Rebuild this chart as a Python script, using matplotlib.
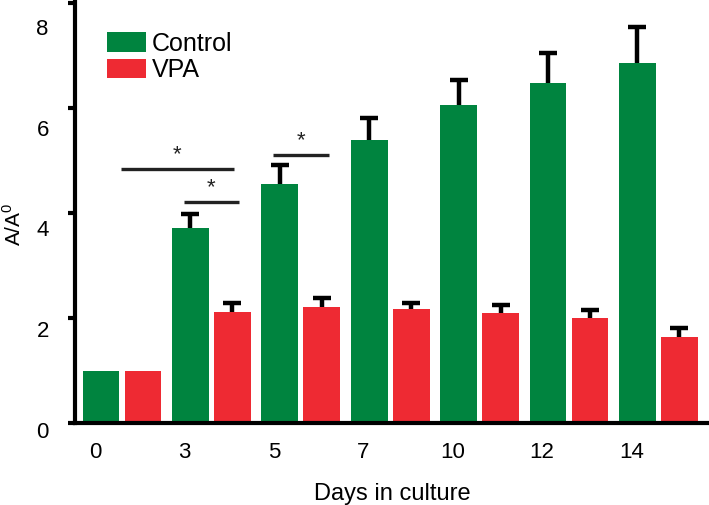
import numpy as np
import matplotlib.pyplot as plt
from matplotlib.transforms import ScaledTranslation

days = ["0", "3", "5", "7", "10", "12", "14"]
control = [1.0, 3.72, 4.56, 5.39, 6.06, 6.48, 6.86]
control_err = [0.0, 0.27, 0.36, 0.42, 0.47, 0.57, 0.68]
vpa = [1.0, 2.11, 2.21, 2.17, 2.09, 2.0, 1.64]
vpa_err = [0.0, 0.18, 0.18, 0.12, 0.16, 0.15, 0.17]
# significance brackets: (from x, to x, height) in group units
brackets = [(-0.01, 1.25, 4.84), (0.69, 1.31, 4.21), (1.69, 2.32, 5.10)]

GREEN = "#00843F"
RED = "#EE2A33"

plt.rcParams["font.family"] = ["Liberation Sans", "DejaVu Sans"]
plt.rcParams["mathtext.fontset"] = "custom"
plt.rcParams["mathtext.rm"] = "Liberation Sans"

fig = plt.figure(figsize=(7.09, 5.05), dpi=100)
ax = fig.add_axes([0.106, 0.1624, 0.894, 0.8376])

x = np.arange(len(days))
w = 0.41
off = 0.235


def upper_errorbars(xs, vals, errs):
    xs, vals, errs = np.asarray(xs), np.asarray(vals), np.asarray(errs)
    keep = errs > 0
    ax.vlines(xs[keep], vals[keep], vals[keep] + errs[keep], color="black",
              lw=3.2, zorder=1)
    ax.plot(xs[keep], vals[keep] + errs[keep], ls="none", marker="_",
            ms=13, mew=3.2, color="black", zorder=1)


ax.bar(x - off, control, w, color=GREEN, label="Control", zorder=2)
ax.bar(x + off, vpa, w, color=RED, label="VPA", zorder=2)
upper_errorbars(x - off, control, control_err)
upper_errorbars(x + off, vpa, vpa_err)

for x0, x1, h in brackets:
    ax.plot([x0, x1], [h, h], color="#222222", lw=2.4, solid_capstyle="butt")
    ax.text((x0 + x1) / 2, h + 0.07, "*", ha="center", va="bottom",
            fontsize=16, color="#222222")

ax.set_xlim(-0.524, 6.566)
ax.set_ylim(0, 8.06)
ax.set_xticks(x - 0.3)
ax.set_xticklabels(days, fontsize=16)
ax.tick_params(axis="x", length=0, pad=14)
ax.set_yticks([0, 2, 4, 6, 8])
ax.tick_params(axis="y", direction="out", length=5, width=3, pad=14, labelsize=16)
for v, lab in zip([0, 2, 4, 6, 8], ax.get_yticklabels()):
    lab.set_transform(lab.get_transform()
                      + ScaledTranslation(0, -(7 + 2.1 * v) / 100, fig.dpi_scale_trans))

ax.spines[["top", "right"]].set_visible(False)
ax.spines["left"].set_linewidth(3)
ax.spines["bottom"].set_linewidth(3)

ax.set_xlabel("Days in culture", fontsize=17, labelpad=14)
ax.set_ylabel("A/A$^{0}$", fontsize=15)
ax.yaxis.set_label_coords(-0.079, 0.47)

ax.legend(loc="upper left", bbox_to_anchor=(0.05, 0.925), frameon=False,
          fontsize=18, handlelength=1.55, handleheight=0.8,
          handletextpad=0.25, labelspacing=0.1, borderpad=0, borderaxespad=0)

fig.savefig("out.png", dpi=100)
